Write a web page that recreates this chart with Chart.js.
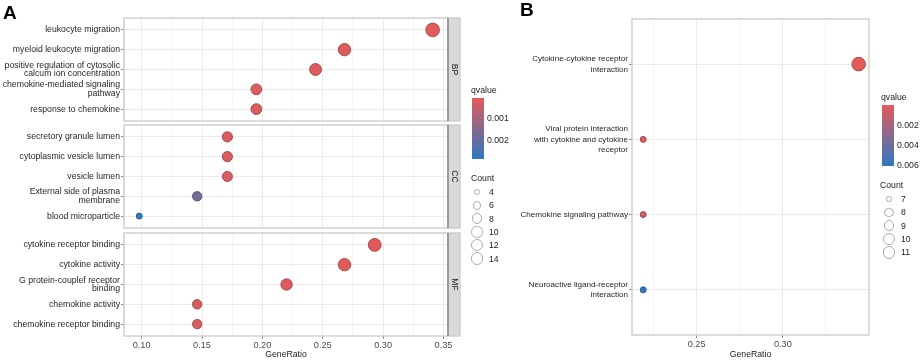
<!DOCTYPE html>
<html>
<head>
<meta charset="utf-8">
<script src="https://cdn.jsdelivr.net/npm/chart.js@4.4.1/dist/chart.umd.min.js"></script>
<style>
  body { margin: 0; width: 920px; height: 360px; position: relative; background: #fff; overflow: hidden;
         font-family: "Liberation Sans", Arial, sans-serif; }
  canvas { position: absolute; left: 0; top: 0; }
  .t { position: absolute; font-size: 8.7px; color: #222; white-space: nowrap; line-height: 1; transform: translateY(-50%); }
  .letter { position: absolute; font-size: 19px; font-weight: bold; color: #000; line-height: 1; }
  .bar { position: absolute; background: linear-gradient(#e25a5a, #3078c0); }
  .dot { position: absolute; border: 1.2px solid #aaa; border-radius: 50%; box-sizing: border-box; }
</style>
</head>
<body>
<canvas id="bp" width="920" height="360"></canvas>
<canvas id="cc" width="920" height="360"></canvas>
<canvas id="mf" width="920" height="360"></canvas>
<canvas id="kegg" width="920" height="360"></canvas>
<div class="letter" style="left:3px;top:3px">A</div>
<div class="letter" style="left:520px;top:0px">B</div>

<script>
// panel A: GO terms, one facet per ontology
const bpTerms = ["leukocyte migration", "myeloid leukocyte migration",
    "positive regulation of cytosolic\ncalcum ion concentration", "chemokine-mediated signaling\npathway",
    "response to chemokine"];
const bpRatio = [0.341, 0.268, 0.244, 0.195, 0.195];
const bpCount = [14, 11, 10, 8, 8];
const bpQ = [0.00005, 0.00012, 0.00015, 0.0002, 0.0002];

const ccTerms = ["secretory granule lumen", "cytoplasmic vesicle lumen", "vesicle lumen",
    "External side of plasma\nmembrane", "blood microparticle"];
const ccRatio = [0.171, 0.171, 0.171, 0.146, 0.098];
const ccCount = [7, 7, 7, 6, 4];
const ccQ = [0.0002, 0.0002, 0.0002, 0.0018, 0.0028];

const mfTerms = ["cytokine receptor binding", "cytokine activity", "G protein-couplef receptor\nbinding",
    "chemokine activity", "chemokine receptor binding"];
const mfRatio = [0.293, 0.268, 0.220, 0.146, 0.146];
const mfCount = [12, 11, 9, 6, 6];
const mfQ = [0.00008, 0.0001, 0.00015, 0.0002, 0.0002];

// panel B: KEGG pathways
const keggTerms = ["Cytokine-cytokine receptor\ninteraction",
    "Viral protein interaction\nwith cytokine and cytokine\nreceptor",
    "Chemokine signaling pathway", "Neuroactive ligand-receptor\ninteraction"];
const keggRatio = [0.344, 0.219, 0.219, 0.219];
const keggCount = [11, 7, 7, 7];
const keggQ = [0.00002, 0.0004, 0.0008, 0.0061];

const xTicksA = [0.10, 0.15, 0.20, 0.25, 0.30, 0.35];
const xTicksB = [0.25, 0.30];
const countBreaksA = [4, 6, 8, 10, 12, 14];
const countBreaksB = [7, 8, 9, 10, 11];
const qLabelsA = ["0.001", "0.002"];
const qLabelsB = ["0.002", "0.004", "0.006"];

const FONT = '"Liberation Sans", Arial, sans-serif';
Chart.defaults.font.family = FONT;

const lowCol = [226, 90, 90], highCol = [48, 120, 192];
function qColor(q, lo, hi, k) {
    const t = Math.min(1, Math.max(0, (q - lo) / (hi - lo)));
    const c = lowCol.map((v, i) => Math.round((v + (highCol[i] - v) * t) * k));
    return "rgb(" + c.join(",") + ")";
}
function sizeFor(c, cmin, cmax) {
    return 3 + 3.8 * Math.sqrt((c - cmin) / (cmax - cmin));
}
function isMajor(v, majors) {
    return majors.some(m => Math.abs(m - v) < 1e-9);
}

// border round the panel and the grey facet strip
const frame = {
    id: "frame",
    afterDraw(chart, args, opts) {
        const { ctx, chartArea: a } = chart;
        const h = a.bottom - a.top;
        ctx.save();
        ctx.lineWidth = 1.3;
        ctx.strokeStyle = "#c9c9c9";
        ctx.strokeRect(a.left, a.top, a.right - a.left, h);
        if (opts.strip) {
            ctx.fillStyle = "#d9d9d9";
            ctx.fillRect(a.right, a.top, 12, h);
            ctx.strokeRect(a.right, a.top, 12, h);
            ctx.strokeStyle = "#7f7f7f";
            ctx.beginPath();
            ctx.moveTo(a.right, a.top);
            ctx.lineTo(a.right, a.bottom);
            ctx.stroke();
            ctx.translate(a.right + 6.5, a.top + h / 2);
            ctx.rotate(Math.PI / 2);
            ctx.fillStyle = "#1a1a1a";
            ctx.font = "8.5px " + FONT;
            ctx.textAlign = "center";
            ctx.textBaseline = "middle";
            ctx.fillText(opts.strip, 0, 0);
        }
        ctx.restore();
    }
};

function dotPlot(id, terms, ratio, count, qv, o) {
    const n = terms.length;
    const step = o.majors[1] - o.majors[0];
    const gridTicks = [];
    for (let v = o.majors[0] - step / 2; v <= o.majors[o.majors.length - 1] + step / 2 + 1e-9; v += step / 2) {
        if (v >= o.xmin && v <= o.xmax) gridTicks.push(+v.toFixed(4));
    }
    new Chart(document.getElementById(id), {
        type: "scatter",
        data: {
            datasets: [{
                data: ratio.map((r, i) => ({ x: r, y: i + 1 })),
                pointRadius: count.map(c => sizeFor(c, o.cmin, o.cmax)),
                pointBackgroundColor: qv.map(q => qColor(q, o.qmin, o.qmax, 1)),
                pointBorderColor: qv.map(q => qColor(q, o.qmin, o.qmax, 0.72)),
                pointBorderWidth: 0.9
            }]
        },
        options: {
            responsive: false,
            animation: false,
            layout: { padding: o.pad },
            plugins: { legend: { display: false }, tooltip: { enabled: false }, frame: { strip: o.strip } },
            scales: {
                x: {
                    type: "linear", min: o.xmin, max: o.xmax,
                    afterBuildTicks: s => { s.ticks = gridTicks.map(v => ({ value: v })); },
                    afterFit: s => { s.height = o.showX ? o.xh : 0; },
                    border: { display: false },
                    grid: {
                        color: c => isMajor(c.tick.value, o.majors) ? "#ebebeb" : "#f5f5f5",
                        tickColor: c => isMajor(c.tick.value, o.majors) ? "#8c8c8c" : "rgba(0,0,0,0)",
                        drawTicks: o.showX, tickLength: 3
                    },
                    ticks: {
                        display: o.showX, autoSkip: false, maxRotation: 0, padding: 1,
                        color: "#4d4d4d", font: { size: 9.2 },
                        callback: v => isMajor(v, o.majors) ? v.toFixed(2) : ""
                    },
                    title: {
                        display: o.showX, text: "GeneRatio", color: "#222",
                        font: { size: 8.7 }, padding: { top: 0, bottom: 0 }
                    }
                },
                y: {
                    type: "linear", reverse: true, min: 0.4, max: n + 0.6,
                    afterBuildTicks: s => { s.ticks = terms.map((t, i) => ({ value: i + 1 })); },
                    afterFit: s => { s.width = o.yw; },
                    border: { display: false },
                    grid: { color: "#ebebeb", tickColor: "#8c8c8c", tickLength: 3 },
                    ticks: {
                        autoSkip: false, padding: 1, color: "#262626",
                        font: { size: o.fs, lineHeight: o.lh },
                        callback: (v, i) => terms[i].split("\n")
                    }
                }
            }
        },
        plugins: [frame]
    });
}

const allA = { xmin: 0.0854, xmax: 0.3537, majors: xTicksA, cmin: 4, cmax: 14,
    qmin: 0.00005, qmax: 0.0028, yw: 124, fs: 8.7, lh: 1.0, xh: 24 };

dotPlot("bp", bpTerms, bpRatio, bpCount, bpQ, Object.assign({}, allA,
    { strip: "BP", showX: false, pad: { left: 0, top: 18, right: 472, bottom: 239 } }));
dotPlot("cc", ccTerms, ccRatio, ccCount, ccQ, Object.assign({}, allA,
    { strip: "CC", showX: false, pad: { left: 0, top: 125, right: 472, bottom: 132 } }));
dotPlot("mf", mfTerms, mfRatio, mfCount, mfQ, Object.assign({}, allA,
    { strip: "MF", showX: true, pad: { left: 0, top: 233, right: 472, bottom: 0 } }));
dotPlot("kegg", keggTerms, keggRatio, keggCount, keggQ, {
    xmin: 0.2125, xmax: 0.35, majors: xTicksB, cmin: 7, cmax: 11,
    qmin: 0.00002, qmax: 0.0061, yw: 632, fs: 8.1, lh: 1.32, xh: 25,
    showX: true, pad: { left: 0, top: 19, right: 51, bottom: 0 }
});

// legends
function addText(txt, x, y) {
    const d = document.createElement("div");
    d.className = "t";
    d.style.left = x + "px";
    d.style.top = y + "px";
    d.textContent = txt;
    document.body.appendChild(d);
}
function colourLegend(x, y0, y1, labels, ys) {
    addText("qvalue", x - 1, y0 - 8);
    const b = document.createElement("div");
    b.className = "bar";
    b.style.cssText = "left:" + x + "px;top:" + y0 + "px;width:12px;height:" + (y1 - y0) + "px";
    document.body.appendChild(b);
    labels.forEach((l, i) => addText(l, x + 15, ys[i]));
}
function sizeLegend(tx, x, y, breaks, cmin, cmax) {
    addText("Count", tx, y);
    breaks.forEach((c, i) => {
        const r = sizeFor(c, cmin, cmax) * 0.95;
        const cy = y + 14 + i * 13.3;
        const d = document.createElement("div");
        d.className = "dot";
        d.style.cssText = "left:" + (x - r) + "px;top:" + (cy - r) + "px;width:" + 2 * r + "px;height:" + 2 * r + "px";
        document.body.appendChild(d);
        addText(String(c), x + 12, cy);
    });
}
colourLegend(472, 98, 159, qLabelsA, [118, 140]);
sizeLegend(471, 477, 178, countBreaksA, 4, 14);
colourLegend(882, 105, 166, qLabelsB, [125, 145, 165]);
sizeLegend(880, 889, 185, countBreaksB, 7, 11);
</script>
</body>
</html>
